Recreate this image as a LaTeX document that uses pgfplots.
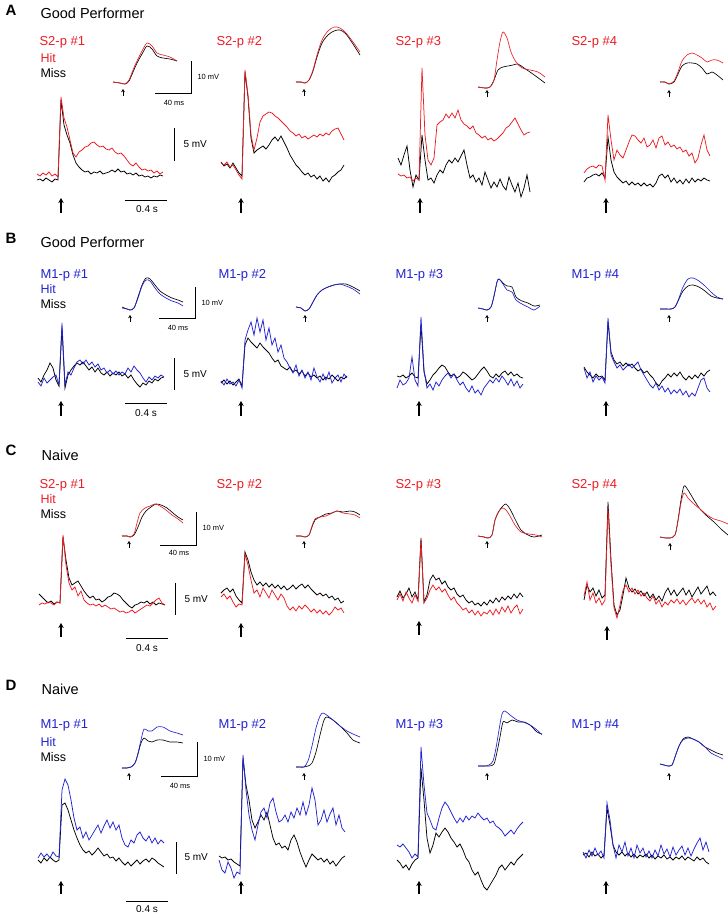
\documentclass[border=0pt]{standalone}
\usepackage{pgfplots}
\pgfplotsset{compat=1.18}
\usetikzlibrary{arrows.meta}
\usepackage{fontspec}
\setmainfont{Liberation Sans}
\definecolor{hred}{RGB}{234,30,36}
\definecolor{hblue}{RGB}{35,35,210}
% main trace: colour, first x (px), y values in px, one every 3 px
\newcommand{\tr}[3]{\addplot[#1, line width=0.75pt] table[header=false, row sep=\\, x expr={#2+3*\coordindex}, y index=0] {#3};}
\newcommand{\ins}[2]{\addplot[#1, line width=0.65pt, smooth] coordinates {#2};}
\newcommand{\bigarr}[3]{\addplot[black, line width=1.2pt, -{Stealth[length=5pt,width=5.5pt]}] coordinates {(#1,#2) (#1,#3)};}
\newcommand{\smarr}[3]{\addplot[black, line width=0.8pt, -{Stealth[length=3.2pt,width=3.8pt]}] coordinates {(#1,#2) (#1,#3)};}
\newcommand{\fA}{\fontsize{15}{17}\selectfont\bfseries}
\newcommand{\fT}{\fontsize{14.5}{17}\selectfont}
\newcommand{\fP}{\fontsize{13}{15}\selectfont}
\newcommand{\fH}{\fontsize{12.5}{14}\selectfont}
\newcommand{\fS}{\fontsize{10}{12}\selectfont}
\newcommand{\fs}{\fontsize{7.5}{9}\selectfont}
\begin{document}
\begin{tikzpicture}
\begin{axis}[width=728pt, height=914pt, scale only axis, at={(0,0)},
  xmin=0, xmax=728, ymin=0, ymax=914, y dir=reverse, hide axis, clip=false]
\coordinate (ll) at (axis cs:0,914);
\coordinate (ur) at (axis cs:728,0);

% ---------------- row A ----------------
\node[anchor=base west, font=\fA] at (2,15) {A};
\node[anchor=base west, font=\fT] at (37,18) {Good Performer};
\node[anchor=base west, font=\fP, text=hred] at (36,45) {S2-p \#1};
\node[anchor=base west, font=\fH, text=hred] at (37,62) {Hit};
\node[anchor=base west, font=\fH] at (37,77) {Miss};
\node[anchor=base west, font=\fP, text=hred] at (213,45) {S2-p \#2};
\node[anchor=base west, font=\fP, text=hred] at (392,45) {S2-p \#3};
\node[anchor=base west, font=\fP, text=hred] at (568,45) {S2-p \#4};

\tr{black}{37}{180\\179\\181\\178\\180\\182\\179\\180\\100\\125\\135\\143\\155\\163\\167\\170\\172\\171\\174\\172\\173\\171\\174\\173\\172\\170\\172\\169\\172\\171\\174\\173\\175\\173\\176\\175\\177\\176\\178\\176\\177\\175\\176\\}
\tr{hred}{37}{174\\176\\173\\175\\172\\176\\174\\177\\97\\118\\127\\140\\153\\157\\152\\150\\147\\146\\143\\142\\145\\147\\146\\149\\150\\148\\152\\154\\153\\156\\160\\164\\166\\163\\167\\170\\169\\171\\170\\173\\171\\174\\172\\}
\tr{black}{221}{162\\166\\164\\168\\163\\168\\173\\176\\72\\97\\138\\153\\150\\148\\146\\149\\145\\140\\137\\141\\136\\142\\148\\155\\160\\165\\168\\172\\175\\173\\177\\175\\179\\176\\181\\178\\182\\177\\175\\172\\170\\165\\}
\tr{hred}{221}{163\\165\\162\\167\\165\\170\\175\\179\\70\\95\\135\\150\\138\\122\\116\\114\\112\\113\\116\\118\\121\\124\\127\\131\\133\\136\\134\\138\\136\\139\\137\\135\\137\\134\\136\\133\\135\\131\\129\\128\\134\\140\\}
\tr{black}{398}{158\\165\\155\\146\\170\\187\\175\\180\\135\\160\\180\\178\\183\\175\\170\\173\\165\\160\\163\\158\\162\\156\\150\\165\\178\\175\\182\\178\\185\\172\\180\\188\\182\\187\\179\\186\\190\\177\\185\\192\\183\\197\\188\\175\\192\\}
\tr{hred}{398}{174\\176\\175\\178\\177\\181\\178\\180\\68\\135\\160\\165\\158\\125\\122\\120\\114\\118\\113\\118\\110\\120\\124\\126\\129\\126\\133\\135\\138\\136\\140\\138\\141\\139\\136\\133\\128\\126\\122\\118\\124\\130\\135\\133\\132\\}
\tr{black}{584}{182\\178\\177\\175\\174\\176\\173\\178\\137\\160\\172\\177\\180\\183\\181\\185\\182\\185\\183\\186\\183\\186\\184\\187\\183\\176\\174\\178\\175\\182\\178\\183\\180\\184\\179\\183\\178\\182\\179\\181\\178\\180\\181\\}
\tr{hred}{584}{173\\169\\167\\166\\168\\165\\166\\180\\115\\140\\160\\150\\155\\158\\150\\142\\135\\136\\140\\143\\138\\147\\145\\140\\148\\138\\136\\145\\142\\147\\145\\149\\147\\152\\150\\156\\153\\163\\158\\145\\135\\150\\156\\}

\ins{black}{(113,82)(120,83)(125,84)(129,81)(133,72)(137,63)(142,54)(147,46)(152,49)(157,56)(163,58)(170,59)(177,61)}
\ins{hred}{(113,82)(120,83)(125,84)(129,80)(133,70)(137,61)(142,51)(147,43)(152,46)(157,53)(163,55)(170,57)(177,61)}
\ins{black}{(296,82)(301,82)(305,83)(309,80)(313,71)(317,57)(322,43)(328,35)(334,31)(340,30)(346,34)(353,44)(360,55)}
\ins{hred}{(296,82)(301,82)(305,83)(309,80)(313,70)(317,55)(322,40)(328,31)(334,27)(340,28)(346,33)(353,42)(360,52)}
\ins{black}{(478,87)(485,88)(490,87)(494,80)(498,70)(503,67)(508,66)(513,65)(518,64)(524,68)(530,72)(537,77)(545,83)}
\ins{hred}{(478,87)(485,88)(490,87)(494,80)(497,60)(500,42)(503,32)(507,38)(511,52)(516,62)(522,68)(530,70)(538,72)(545,77)}
\ins{black}{(660,82)(665,82)(669,84)(674,82)(678,74)(682,66)(687,63)(692,63)(697,64)(702,68)(707,74)(712,72)(717,75)(723,80)}
\ins{hred}{(660,82)(665,82)(669,84)(674,81)(678,72)(682,61)(687,55)(692,53)(697,55)(702,58)(707,62)(712,60)(717,60)(723,63)}

\smarr{123}{96}{89} \smarr{304}{96}{89} \smarr{487}{97}{90} \smarr{669}{97}{90}
\bigarr{61}{213}{198} \bigarr{241}{213}{198} \bigarr{420}{213}{198} \bigarr{606}{213}{198}
\addplot[black, line width=0.8pt] coordinates {(155,93) (191,93) (191,61)};
\node[anchor=west, font=\fs] at (194,77) {10 mV};
\node[font=\fs] at (174,103) {40 ms};
\addplot[black, line width=0.8pt] coordinates {(174,128) (174,161)};
\node[anchor=west, font=\fS] at (180,144) {5 mV};
\addplot[black, line width=0.8pt] coordinates {(125,200) (167,200)};
\node[font=\fS] at (147,209) {0.4 s};

% ---------------- row B ----------------
\node[anchor=base west, font=\fA] at (2,243) {B};
\node[anchor=base west, font=\fT] at (37,247) {Good Performer};
\node[anchor=base west, font=\fP, text=hblue] at (37,278) {M1-p \#1};
\node[anchor=base west, font=\fH, text=hblue] at (37,293) {Hit};
\node[anchor=base west, font=\fH] at (37,308) {Miss};
\node[anchor=base west, font=\fP, text=hblue] at (215,278) {M1-p \#2};
\node[anchor=base west, font=\fP, text=hblue] at (392,278) {M1-p \#3};
\node[anchor=base west, font=\fP, text=hblue] at (568,278) {M1-p \#4};

\tr{black}{38}{378\\382\\375\\370\\363\\368\\380\\386\\328\\388\\375\\370\\366\\363\\365\\362\\366\\370\\367\\372\\368\\373\\375\\372\\376\\373\\375\\372\\376\\374\\378\\375\\380\\384\\387\\383\\385\\381\\383\\379\\381\\378\\377\\}
\tr{hblue}{38}{382\\386\\378\\383\\380\\377\\375\\385\\323\\385\\372\\375\\368\\362\\360\\364\\360\\365\\362\\367\\364\\370\\368\\373\\370\\374\\371\\375\\372\\374\\368\\372\\366\\370\\373\\378\\382\\377\\380\\376\\378\\375\\377\\}
\tr{black}{221}{383\\380\\384\\381\\385\\382\\379\\386\\345\\338\\342\\345\\348\\343\\347\\350\\353\\358\\362\\360\\366\\368\\370\\367\\372\\370\\374\\371\\376\\373\\377\\375\\378\\376\\380\\377\\379\\375\\378\\381\\377\\379\\376\\}
\tr{hblue}{221}{381\\385\\379\\384\\382\\386\\380\\388\\340\\330\\322\\335\\318\\332\\320\\340\\328\\345\\338\\352\\345\\358\\362\\368\\373\\365\\376\\370\\378\\372\\380\\368\\377\\382\\374\\380\\372\\383\\378\\375\\382\\374\\378\\}
\tr{black}{397}{376\\377\\375\\378\\376\\373\\377\\378\\325\\372\\384\\380\\375\\372\\368\\365\\367\\372\\376\\374\\378\\376\\372\\374\\377\\380\\378\\374\\370\\367\\371\\376\\378\\374\\377\\373\\371\\375\\372\\376\\374\\377\\378\\}
\tr{hblue}{397}{388\\380\\385\\383\\378\\357\\380\\386\\317\\370\\388\\384\\390\\382\\386\\380\\376\\373\\378\\374\\380\\385\\382\\388\\392\\386\\393\\390\\395\\388\\384\\380\\383\\378\\382\\376\\380\\385\\379\\386\\381\\388\\384\\}
\tr{black}{584}{367\\372\\375\\378\\374\\377\\376\\380\\322\\352\\360\\364\\362\\366\\363\\366\\364\\368\\371\\369\\373\\371\\375\\378\\383\\386\\381\\378\\374\\377\\373\\376\\372\\377\\380\\376\\379\\375\\378\\373\\376\\372\\370\\}
\tr{hblue}{584}{368\\378\\372\\382\\376\\380\\377\\383\\318\\355\\362\\368\\365\\370\\367\\364\\368\\365\\362\\370\\375\\380\\385\\388\\383\\390\\386\\392\\388\\394\\390\\393\\389\\395\\391\\397\\393\\396\\388\\380\\378\\388\\392\\}

\ins{black}{(122,307)(127,309)(130,310)(134,308)(138,297)(142,285)(146,278)(150,279)(155,285)(160,291)(166,295)(172,298)(178,300)(183,302)}
\ins{hblue}{(122,308)(127,309)(130,310)(134,308)(138,298)(142,286)(146,280)(150,281)(155,288)(160,294)(166,298)(172,301)(178,303)(183,306)}
\ins{black}{(296,307)(301,308)(305,311)(309,309)(313,302)(317,295)(322,290)(328,287)(334,285)(340,284)(346,284)(353,287)(360,291)}
\ins{hblue}{(296,307)(301,308)(305,311)(309,309)(313,302)(317,295)(322,290)(328,287)(334,285)(340,284)(346,286)(353,289)(360,294)}
\ins{black}{(478,308)(483,309)(487,310)(491,307)(494,296)(497,282)(499,279)(503,283)(507,286)(512,287)(516,297)(522,301)(528,303)(534,306)(540,305)}
\ins{hblue}{(478,308)(483,309)(487,310)(491,307)(494,296)(497,282)(499,279)(503,284)(507,290)(512,292)(516,300)(522,304)(528,307)(534,310)(540,306)}
\ins{black}{(660,309)(666,309)(671,309)(675,307)(679,299)(683,291)(688,286)(693,285)(699,287)(705,291)(711,296)(717,298)(723,299)}
\ins{hblue}{(660,309)(666,309)(671,309)(675,307)(679,298)(683,287)(688,279)(693,278)(699,281)(705,286)(711,292)(717,297)(723,299)}

\smarr{130}{322}{315} \smarr{305}{322}{315} \smarr{487}{322}{315} \smarr{669}{322}{315}
\bigarr{61}{416}{401} \bigarr{241}{416}{401} \bigarr{419}{416}{401} \bigarr{606}{416}{401}
\addplot[black, line width=0.8pt] coordinates {(159,318) (195,318) (195,287)};
\node[anchor=west, font=\fs] at (198,303) {10 mV};
\node[font=\fs] at (178,328) {40 ms};
\addplot[black, line width=0.8pt] coordinates {(174,358) (174,390)};
\node[anchor=west, font=\fS] at (180,374) {5 mV};
\addplot[black, line width=0.8pt] coordinates {(125,403) (167,403)};
\node[font=\fS] at (146,413) {0.4 s};

% ---------------- row C ----------------
\node[anchor=base west, font=\fA] at (2,455) {C};
\node[anchor=base west, font=\fT] at (38,460) {Naive};
\node[anchor=base west, font=\fP, text=hred] at (36,488) {S2-p \#1};
\node[anchor=base west, font=\fH, text=hred] at (37,503) {Hit};
\node[anchor=base west, font=\fH] at (37,518) {Miss};
\node[anchor=base west, font=\fP, text=hred] at (213,488) {S2-p \#2};
\node[anchor=base west, font=\fP, text=hred] at (392,488) {S2-p \#3};
\node[anchor=base west, font=\fP, text=hred] at (568,488) {S2-p \#4};

\tr{black}{39}{594\\597\\600\\603\\601\\604\\602\\603\\537\\560\\578\\585\\583\\581\\586\\591\\595\\598\\596\\600\\599\\602\\600\\597\\596\\593\\594\\596\\600\\603\\606\\608\\605\\604\\602\\603\\601\\604\\602\\605\\603\\604\\605\\}
\tr{hred}{39}{605\\603\\604\\602\\603\\605\\602\\603\\535\\565\\583\\590\\587\\596\\591\\600\\603\\605\\604\\606\\604\\607\\605\\607\\609\\608\\610\\612\\611\\613\\612\\610\\613\\611\\609\\607\\605\\606\\603\\600\\598\\603\\605\\}
\tr{black}{221}{593\\590\\588\\592\\589\\596\\600\\603\\552\\560\\572\\580\\585\\582\\586\\583\\587\\584\\588\\585\\589\\586\\590\\588\\585\\589\\586\\584\\588\\585\\589\\592\\595\\593\\596\\594\\598\\596\\600\\598\\603\\601\\}
\tr{hred}{221}{597\\594\\599\\596\\602\\607\\604\\605\\554\\565\\580\\593\\590\\597\\588\\593\\598\\590\\595\\600\\594\\598\\606\\610\\607\\611\\606\\609\\605\\608\\612\\609\\613\\610\\614\\611\\615\\612\\607\\610\\608\\613\\}
\tr{black}{397}{597\\591\\598\\594\\588\\597\\592\\600\\538\\602\\595\\580\\575\\580\\578\\584\\581\\587\\590\\588\\594\\597\\595\\600\\603\\601\\605\\603\\606\\602\\605\\600\\603\\598\\602\\597\\600\\596\\599\\594\\598\\593\\597\\}
\tr{hred}{397}{600\\594\\601\\592\\598\\603\\595\\601\\540\\603\\598\\590\\585\\590\\587\\592\\589\\595\\600\\597\\603\\606\\610\\608\\613\\610\\615\\611\\616\\612\\614\\610\\615\\609\\614\\607\\612\\606\\613\\608\\605\\614\\609\\}
\tr{black}{584}{600\\585\\592\\588\\596\\590\\598\\595\\502\\560\\605\\615\\610\\595\\578\\588\\592\\589\\594\\591\\596\\592\\598\\594\\600\\596\\601\\593\\588\\595\\590\\596\\592\\588\\595\\590\\597\\592\\587\\594\\590\\586\\595\\592\\596\\}
\tr{hred}{584}{596\\582\\600\\593\\603\\598\\605\\600\\508\\565\\608\\618\\605\\590\\585\\592\\588\\594\\590\\596\\593\\598\\601\\596\\604\\600\\607\\602\\605\\600\\603\\599\\604\\600\\605\\601\\598\\603\\599\\604\\600\\607\\603\\610\\606\\}

\ins{black}{(122,536)(127,536)(130,537)(134,535)(138,527)(142,517)(146,511)(151,507)(156,504)(161,505)(167,508)(173,513)(178,517)(183,520)}
\ins{hred}{(122,536)(127,536)(130,537)(134,534)(137,523)(140,513)(145,508)(150,506)(155,504)(160,506)(166,510)(172,515)(178,519)(183,523)}
\ins{black}{(296,536)(301,536)(305,537)(309,535)(312,527)(315,520)(320,517)(326,514)(332,513)(337,511)(343,512)(350,511)(355,512)(360,515)}
\ins{hred}{(296,536)(301,536)(305,537)(309,535)(312,526)(315,519)(320,517)(326,516)(332,513)(337,511)(343,513)(350,514)(355,515)(360,518)}
\ins{black}{(478,536)(484,537)(488,538)(492,535)(495,520)(499,511)(503,506)(506,504)(510,509)(515,519)(521,530)(528,535)(534,537)(542,535)}
\ins{hred}{(478,536)(484,537)(488,538)(492,535)(495,520)(498,513)(502,508)(506,510)(510,516)(515,525)(521,532)(529,534)(536,535)(542,537)}
\ins{black}{(660,537)(666,538)(670,538)(675,535)(678,520)(681,500)(684,486)(688,490)(694,500)(700,509)(707,516)(714,522)(721,529)(728,535)}
\ins{hred}{(660,537)(666,538)(670,538)(675,535)(678,521)(681,503)(684,493)(688,498)(694,504)(700,509)(707,515)(714,519)(721,521)(728,524)}

\smarr{129}{548}{541} \smarr{304}{548}{541} \smarr{487}{548}{541} \smarr{670}{550}{543}
\bigarr{61}{637}{623} \bigarr{241}{637}{623} \bigarr{419}{635}{621} \bigarr{607}{640}{626}
\addplot[black, line width=0.8pt] coordinates {(160,545) (196,545) (196,512)};
\node[anchor=west, font=\fs] at (199,528) {10 mV};
\node[font=\fs] at (179,553) {40 ms};
\addplot[black, line width=0.8pt] coordinates {(175,583) (175,615)};
\node[anchor=west, font=\fS] at (181,599) {5 mV};
\addplot[black, line width=0.8pt] coordinates {(126,638) (168,638)};
\node[font=\fS] at (147,648) {0.4 s};

% ---------------- row D ----------------
\node[anchor=base west, font=\fA] at (2,690) {D};
\node[anchor=base west, font=\fT] at (38,694) {Naive};
\node[anchor=base west, font=\fP, text=hblue] at (37,728) {M1-p \#1};
\node[anchor=base west, font=\fH, text=hblue] at (37,746) {Hit};
\node[anchor=base west, font=\fH] at (37,761) {Miss};
\node[anchor=base west, font=\fP, text=hblue] at (215,728) {M1-p \#2};
\node[anchor=base west, font=\fP, text=hblue] at (392,728) {M1-p \#3};
\node[anchor=base west, font=\fP, text=hblue] at (568,728) {M1-p \#4};

\tr{black}{38}{860\\863\\858\\861\\857\\860\\862\\860\\805\\803\\810\\820\\830\\838\\845\\850\\853\\851\\855\\852\\848\\852\\856\\854\\858\\857\\861\\858\\862\\865\\862\\866\\863\\860\\864\\861\\859\\862\\858\\860\\863\\865\\867\\}
\tr{hblue}{38}{858\\853\\857\\854\\858\\852\\856\\857\\790\\779\\785\\800\\818\\830\\827\\838\\832\\840\\835\\830\\825\\833\\826\\820\\828\\822\\830\\825\\838\\845\\847\\840\\843\\835\\832\\838\\841\\836\\843\\838\\844\\840\\843\\}
\tr{black}{219}{856\\858\\857\\860\\859\\862\\864\\866\\758\\785\\800\\820\\828\\822\\815\\820\\812\\825\\838\\845\\843\\848\\846\\850\\840\\835\\842\\852\\860\\867\\860\\854\\857\\860\\858\\862\\859\\864\\861\\866\\862\\858\\856\\}
\tr{hblue}{219}{860\\870\\873\\862\\868\\878\\872\\874\\755\\790\\815\\830\\840\\825\\812\\808\\818\\803\\798\\812\\822\\820\\815\\822\\812\\818\\808\\815\\802\\815\\805\\788\\800\\825\\820\\810\\822\\814\\808\\825\\815\\828\\832\\}
\tr{black}{397}{860\\863\\868\\865\\870\\864\\860\\858\\768\\800\\838\\853\\845\\833\\837\\832\\828\\832\\838\\842\\847\\844\\850\\858\\862\\870\\875\\872\\880\\887\\890\\885\\880\\875\\868\\865\\870\\866\\862\\865\\860\\857\\854\\}
\tr{hblue}{397}{845\\847\\844\\848\\852\\858\\854\\857\\747\\785\\813\\820\\828\\830\\818\\808\\802\\806\\812\\818\\823\\818\\822\\816\\820\\816\\818\\813\\817\\820\\818\\823\\821\\826\\828\\831\\836\\833\\830\\834\\829\\825\\822\\}
\tr{black}{583}{855\\853\\857\\852\\856\\854\\858\\855\\808\\825\\845\\852\\855\\852\\856\\853\\857\\854\\858\\855\\857\\854\\858\\855\\859\\856\\858\\855\\859\\857\\860\\857\\859\\856\\860\\857\\859\\861\\857\\860\\858\\862\\864\\}
\tr{hblue}{583}{852\\858\\850\\856\\848\\855\\851\\858\\803\\820\\845\\858\\845\\852\\842\\856\\848\\858\\845\\853\\848\\857\\851\\858\\850\\856\\845\\854\\849\\857\\847\\855\\850\\846\\855\\848\\856\\849\\843\\838\\850\\842\\852\\}

\ins{black}{(122,768)(127,768)(131,767)(135,763)(138,754)(141,743)(144,738)(148,741)(152,742)(157,740)(163,740)(170,742)(177,742)(183,743)}
\ins{hblue}{(122,768)(127,768)(131,767)(135,763)(138,753)(141,740)(144,729)(148,731)(152,731)(157,727)(163,727)(170,731)(177,733)(183,735)}
\ins{black}{(296,767)(300,767)(304,767)(308,766)(312,763)(316,752)(320,735)(324,720)(327,717)(333,720)(340,726)(347,733)(353,740)(360,743)}
\ins{hblue}{(296,767)(300,767)(304,767)(308,761)(312,746)(316,728)(320,716)(323,713)(328,716)(334,721)(340,726)(347,731)(353,734)(360,737)}
\ins{black}{(478,766)(484,766)(489,766)(494,764)(497,752)(500,737)(503,722)(507,723)(512,720)(518,722)(524,722)(530,725)(537,732)(542,734)}
\ins{hblue}{(478,766)(484,766)(489,765)(493,761)(496,748)(499,730)(502,714)(505,711)(510,715)(517,720)(523,722)(530,725)(537,730)(542,735)}
\ins{black}{(660,764)(664,765)(668,766)(672,765)(675,757)(679,746)(683,739)(688,737)(693,739)(699,742)(705,747)(711,750)(717,753)(723,755)}
\ins{hblue}{(660,764)(664,765)(668,766)(672,765)(675,757)(679,746)(683,740)(688,738)(693,739)(699,742)(705,747)(711,753)(717,756)(723,759)}

\smarr{129}{780}{773} \smarr{304}{780}{773} \smarr{487}{780}{773} \smarr{669}{780}{773}
\bigarr{61}{894}{881} \bigarr{241}{894}{881} \bigarr{419}{894}{881} \bigarr{606}{894}{881}
\addplot[black, line width=0.8pt] coordinates {(161,776) (197,776) (197,742)};
\node[anchor=west, font=\fs] at (200,759) {10 mV};
\node[font=\fs] at (180,786) {40 ms};
\addplot[black, line width=0.8pt] coordinates {(176,842) (176,874)};
\node[anchor=west, font=\fS] at (181,857) {5 mV};
\addplot[black, line width=0.8pt] coordinates {(126,901) (168,901)};
\node[font=\fS] at (147,909) {0.4 s};
\end{axis}
\pgfresetboundingbox
\path (ll) rectangle (ur);
\end{tikzpicture}
\end{document}
